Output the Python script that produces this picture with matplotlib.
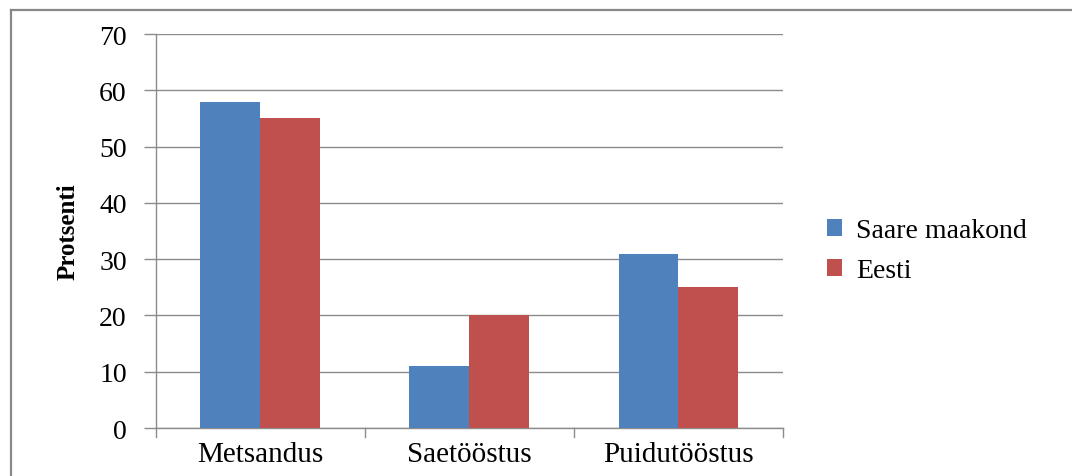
import matplotlib.pyplot as plt
from matplotlib.lines import Line2D
import numpy as np

categories = ['Metsandus', 'Saetööstus', 'Puidutööstus']
saare = [58, 11, 31]
eesti = [55, 20, 25]
series_names = ['Saare maakond', 'Eesti']

plt.rcParams['font.family'] = ['Liberation Serif', 'DejaVu Serif']

fig = plt.figure(figsize=(10.72, 4.77), dpi=100)
ax = fig.add_axes([0.1455, 0.1006, 0.5849, 0.826])

x = np.arange(len(categories))
w = 0.287
ax.bar(x - w / 2, saare, w, color='#4F81BD', label=series_names[0], zorder=3)
ax.bar(x + w / 2, eesti, w, color='#C0504D', label=series_names[1], zorder=3)

ax.set_xlim(-0.5, 2.5)
ax.set_ylim(0, 70)
ax.set_yticks(range(0, 71, 10))
ax.yaxis.grid(True, color='#8C8C8C', linewidth=1)
ax.set_axisbelow(True)

# category labels without ticks, boundary ticks below the axis
ax.set_xticks(x)
ax.set_xticklabels(categories, fontsize=21)
ax.tick_params(axis='x', length=0, pad=9)
for b in [-0.5, 0.5, 1.5, 2.5]:
    ax.plot([b, b], [0, -0.022], transform=ax.get_xaxis_transform(),
            color='#8C8C8C', linewidth=1, clip_on=False)

ax.tick_params(axis='y', labelsize=20, length=9, width=1, color='#8C8C8C', pad=12)
for side in ['top', 'right']:
    ax.spines[side].set_visible(False)
for side in ['left', 'bottom']:
    ax.spines[side].set_color('#8C8C8C')
    ax.spines[side].set_linewidth(1)

ax.set_ylabel('Protsenti', fontsize=18, fontweight='bold', labelpad=14)

ax.legend(loc='center left', bbox_to_anchor=(1.03, 0.45), frameon=False,
          fontsize=20, handlelength=0.55, handleheight=0.55, handletextpad=0.5,
          labelspacing=0.55)

# outer chart border (left and top edges visible)
fig.add_artist(Line2D([10.5 / 1072, 10.5 / 1072], [0, 1 - 10.5 / 477],
                      transform=fig.transFigure, color='#888888', linewidth=1.6))
fig.add_artist(Line2D([10.5 / 1072, 1], [1 - 10.5 / 477, 1 - 10.5 / 477],
                      transform=fig.transFigure, color='#888888', linewidth=1.6))

fig.savefig('out.png', dpi=100)
